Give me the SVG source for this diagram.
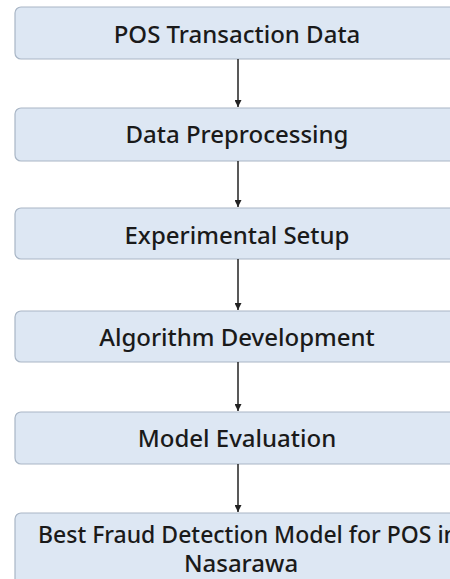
<svg xmlns="http://www.w3.org/2000/svg" width="450" height="579" viewBox="0 0 450 579">
<defs>
<style>
.box{fill:#dde7f3;stroke:#a9b6c6;stroke-width:1.2}
.lbl{font-family:"Noto Sans","Open Sans","DejaVu Sans",sans-serif;font-size:24px;font-weight:500;fill:#1a1a1a;text-anchor:middle}
.conn{stroke:#222;stroke-width:1.5;fill:none;marker-end:url(#ah)}
</style>
<marker id="ah" viewBox="0 0 10 10" refX="10" refY="5" markerWidth="7" markerHeight="7" markerUnits="userSpaceOnUse" orient="auto">
<path d="M0,0 L10,5 L0,10 z" fill="#222"/>
</marker>
</defs>
<rect width="450" height="579" fill="#ffffff"/>
<g id="n1"><rect class="box" x="15" y="7" width="450" height="52" rx="6"/><text class="lbl" x="237" y="43">POS Transaction Data</text></g>
<g id="n2"><rect class="box" x="15" y="108" width="450" height="53" rx="6"/><text class="lbl" x="237" y="143">Data Preprocessing</text></g>
<g id="n3"><rect class="box" x="15" y="208" width="450" height="51" rx="6"/><text class="lbl" x="237" y="244">Experimental Setup</text></g>
<g id="n4"><rect class="box" x="15" y="311" width="450" height="51" rx="6"/><text class="lbl" x="237" y="346">Algorithm Development</text></g>
<g id="n5"><rect class="box" x="15" y="412" width="450" height="52" rx="6"/><text class="lbl" x="237" y="447">Model Evaluation</text></g>
<g id="n6"><rect class="box" x="15" y="513" width="450" height="80" rx="6"/><text class="lbl" x="38" y="543" style="text-anchor:start" textLength="420" lengthAdjust="spacingAndGlyphs">Best Fraud Detection Model for POS in</text><text class="lbl" x="241" y="572">Nasarawa</text></g>
<g id="connectors">
<line class="conn" x1="238" y1="59" x2="238" y2="107"/>
<line class="conn" x1="238" y1="161" x2="238" y2="207"/>
<line class="conn" x1="238" y1="259" x2="238" y2="310"/>
<line class="conn" x1="238" y1="362" x2="238" y2="411"/>
<line class="conn" x1="238" y1="464" x2="238" y2="512"/>
</g>
</svg>
